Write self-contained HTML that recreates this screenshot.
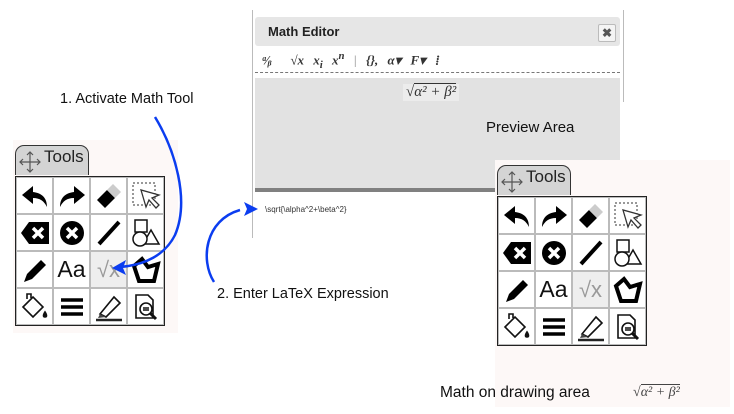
<!DOCTYPE html>
<html><head><meta charset="utf-8"><style>
body{margin:0;width:734px;height:414px;background:#fff;position:relative;overflow:hidden;font-family:"Liberation Sans",sans-serif}
.a{position:absolute}
.panel{position:absolute}
.tab{position:absolute;left:2px;top:5px;width:74px;height:30px;background:#d4d4d4;border:1.5px solid #333;border-bottom:none;border-radius:9px 9px 0 0;box-sizing:border-box}
.tab span{position:absolute;left:28px;top:1px;font-size:17px;color:#222}
.grid{position:absolute;left:2px;top:36px;width:150px;height:150px;border:1.5px solid #222;background:#bbb;display:grid;grid-template-columns:repeat(4,1fr);grid-template-rows:repeat(4,1fr);gap:2px;padding:1px;box-sizing:border-box}
.grid div{background:#fff;display:flex;align-items:center;justify-content:center;font-size:22px;color:#111}
svg{display:block}
.m{font-family:"Liberation Serif",serif;font-style:italic}
</style></head><body>

<!-- Math editor -->
<div class="a" style="left:252px;top:10px;width:1px;height:228px;background:#bbb"></div>
<div class="a" style="left:623px;top:10px;width:1px;height:92px;background:#bbb"></div>
<div class="a" style="left:255px;top:17px;width:365px;height:29px;background:#e6e6e6;border-radius:3px"></div>
<div class="a" style="left:268px;top:24px;font-size:13px;font-weight:bold;color:#222">Math Editor</div>
<div class="a" style="left:598px;top:24px;width:16px;height:16px;background:#f4f4f4;border:1px solid #bbb;border-radius:2px;font-size:12px;font-weight:bold;color:#555;text-align:center;line-height:16px">✖</div>
<div class="a m" style="left:262px;top:50px;font-size:13px;font-weight:bold;color:#333;white-space:nowrap;word-spacing:6px">ᵃ⁄ᵦ &nbsp;√x x<sub>i</sub> x<sup>n</sup> <span style="font-style:normal;color:#aaa">|</span> {}, α▾ F▾ ⁞</div>
<div class="a" style="left:255px;top:72px;width:365px;border-top:1px dashed #777"></div>
<div class="a" style="left:255px;top:78px;width:365px;height:110px;background:#e2e2e2"></div>
<div class="a m" style="left:403px;top:84px;padding:0 3px;background:#ececec;font-size:15px;color:#333">√<span style="border-top:1px solid #333">α² + β²</span></div>
<div class="a" style="left:486px;top:119px;font-size:15px;color:#111">Preview Area</div>
<div class="a" style="left:255px;top:188px;width:365px;height:4px;background:#808080"></div>
<div class="a" style="left:265px;top:205px;font-size:8px;color:#333">\sqrt{\alpha^2+\beta^2}</div>

<!-- Left panel -->
<div class="a" style="left:13px;top:140px;width:165px;height:193px;background:#fdf8f7"></div>
<div class="panel" style="left:13px;top:140px">
<div class="tab"><svg class="a" style="left:3px;top:5px" width="22" height="22" viewBox="0 0 22 22" fill="none" stroke="#555" stroke-width="1.2"><path d="M11 1v20M1 11h20M8 4l3-3 3 3M8 18l3 3 3-3M4 8l-3 3 3 3M18 8l3 3-3 3"/></svg><span>Tools</span></div>
<div class="grid">
<div><svg width="28" height="24" viewBox="0 0 28 24"><path d="M12 2L1 11l11 9v-6c7 0 11 3 14 9 0-9-5-14-14-15z" fill="#000"/></svg></div>
<div><svg width="28" height="24" viewBox="0 0 28 24"><path d="M16 2l11 9-11 9v-6c-7 0-11 3-14 9 0-9 5-14 14-15z" fill="#000"/></svg></div>
<div><svg width="28" height="28" viewBox="0 0 28 28"><path d="M2 18l10-10 8 8-10 10z" fill="#000"/><path d="M12 8l6-6 8 8-6 6z" fill="#ccc"/></svg></div>
<div><svg width="30" height="30" viewBox="0 0 30 30"><rect x="2" y="2" width="22" height="22" fill="none" stroke="#333" stroke-dasharray="2 2"/><path d="M10 9l5 17 3-7 7 8 3-3-7-7 7-3z" fill="#fff" stroke="#333" stroke-width="1.3"/></svg></div>
<div><svg width="30" height="26" viewBox="0 0 30 26"><path d="M9 2h20v22H9L1 13z" fill="#000"/><path d="M13 8l10 10M23 8L13 18" stroke="#fff" stroke-width="3.5"/></svg></div>
<div><svg width="28" height="28" viewBox="0 0 28 28"><circle cx="14" cy="14" r="12" fill="#000"/><path d="M9 9l10 10M19 9L9 19" stroke="#fff" stroke-width="3.5"/></svg></div>
<div><svg width="28" height="28" viewBox="0 0 28 28"><path d="M4 25L24 3" stroke="#000" stroke-width="4"/></svg></div>
<div><svg width="30" height="30" viewBox="0 0 30 30" fill="none" stroke="#111" stroke-width="1.5"><rect x="4" y="2" width="12" height="12"/><path d="M20 12l8 14H12z" fill="#fff"/><circle cx="9" cy="21" r="7" fill="#fff"/></svg></div>
<div><svg width="28" height="28" viewBox="0 0 28 28"><path d="M3 26l3-8L20 4l5 5L11 23z" fill="#000"/></svg></div>
<div style="font-size:23px">Aa</div>
<div style="background:#eee;color:#999;font-size:22px">√<span>x</span></div>
<div><svg width="30" height="28" viewBox="0 0 30 28"><path d="M3 10l8-7 6 8 10-3-4 17H8z" fill="none" stroke="#000" stroke-width="4"/></svg></div>
<div><svg width="30" height="30" viewBox="0 0 30 30" fill="none" stroke="#111" stroke-width="1.6"><path d="M3 15l10-10 10 10-10 10z"/><path d="M7 7V2h4v4"/><path d="M25 20c-2 3-2 5 0 5s2-2 0-5z" fill="#111"/></svg></div>
<div><svg width="28" height="24" viewBox="0 0 28 24"><path d="M3 5h22M3 12h22M3 19h22" stroke="#000" stroke-width="3.5"/></svg></div>
<div><svg width="30" height="30" viewBox="0 0 30 30"><path d="M6 22L20 5l6 6-14 14z" fill="#fff" stroke="#111" stroke-width="1.6"/><path d="M6 22l6 3-8 1z" fill="#444"/><path d="M2 28h26" stroke="#222" stroke-width="2.5"/></svg></div>
<div><svg width="30" height="30" viewBox="0 0 30 30" fill="none" stroke="#111" stroke-width="1.6"><path d="M5 3h12l5 5v18H5z"/><circle cx="15" cy="17" r="6" fill="#fff"/><path d="M19 21l6 6" stroke-width="3"/><path d="M12 16h6M12 18h6"/></svg></div>
</div></div>

<!-- Right panel -->
<div class="a" style="left:495px;top:160px;width:235px;height:247px;background:#fdf8f7"></div>
<div class="panel" style="left:495px;top:160px">
<div class="tab"><svg class="a" style="left:3px;top:5px" width="22" height="22" viewBox="0 0 22 22" fill="none" stroke="#555" stroke-width="1.2"><path d="M11 1v20M1 11h20M8 4l3-3 3 3M8 18l3 3 3-3M4 8l-3 3 3 3M18 8l3 3-3 3"/></svg><span>Tools</span></div>
<div class="grid">
<div><svg width="28" height="24" viewBox="0 0 28 24"><path d="M12 2L1 11l11 9v-6c7 0 11 3 14 9 0-9-5-14-14-15z" fill="#000"/></svg></div>
<div><svg width="28" height="24" viewBox="0 0 28 24"><path d="M16 2l11 9-11 9v-6c-7 0-11 3-14 9 0-9 5-14 14-15z" fill="#000"/></svg></div>
<div><svg width="28" height="28" viewBox="0 0 28 28"><path d="M2 18l10-10 8 8-10 10z" fill="#000"/><path d="M12 8l6-6 8 8-6 6z" fill="#ccc"/></svg></div>
<div><svg width="30" height="30" viewBox="0 0 30 30"><rect x="2" y="2" width="22" height="22" fill="none" stroke="#333" stroke-dasharray="2 2"/><path d="M10 9l5 17 3-7 7 8 3-3-7-7 7-3z" fill="#fff" stroke="#333" stroke-width="1.3"/></svg></div>
<div><svg width="30" height="26" viewBox="0 0 30 26"><path d="M9 2h20v22H9L1 13z" fill="#000"/><path d="M13 8l10 10M23 8L13 18" stroke="#fff" stroke-width="3.5"/></svg></div>
<div><svg width="28" height="28" viewBox="0 0 28 28"><circle cx="14" cy="14" r="12" fill="#000"/><path d="M9 9l10 10M19 9L9 19" stroke="#fff" stroke-width="3.5"/></svg></div>
<div><svg width="28" height="28" viewBox="0 0 28 28"><path d="M4 25L24 3" stroke="#000" stroke-width="4"/></svg></div>
<div><svg width="30" height="30" viewBox="0 0 30 30" fill="none" stroke="#111" stroke-width="1.5"><rect x="4" y="2" width="12" height="12"/><path d="M20 12l8 14H12z" fill="#fff"/><circle cx="9" cy="21" r="7" fill="#fff"/></svg></div>
<div><svg width="28" height="28" viewBox="0 0 28 28"><path d="M3 26l3-8L20 4l5 5L11 23z" fill="#000"/></svg></div>
<div style="font-size:23px">Aa</div>
<div style="background:#eee;color:#999;font-size:22px">√<span>x</span></div>
<div><svg width="30" height="28" viewBox="0 0 30 28"><path d="M3 10l8-7 6 8 10-3-4 17H8z" fill="none" stroke="#000" stroke-width="4"/></svg></div>
<div><svg width="30" height="30" viewBox="0 0 30 30" fill="none" stroke="#111" stroke-width="1.6"><path d="M3 15l10-10 10 10-10 10z"/><path d="M7 7V2h4v4"/><path d="M25 20c-2 3-2 5 0 5s2-2 0-5z" fill="#111"/></svg></div>
<div><svg width="28" height="24" viewBox="0 0 28 24"><path d="M3 5h22M3 12h22M3 19h22" stroke="#000" stroke-width="3.5"/></svg></div>
<div><svg width="30" height="30" viewBox="0 0 30 30"><path d="M6 22L20 5l6 6-14 14z" fill="#fff" stroke="#111" stroke-width="1.6"/><path d="M6 22l6 3-8 1z" fill="#444"/><path d="M2 28h26" stroke="#222" stroke-width="2.5"/></svg></div>
<div><svg width="30" height="30" viewBox="0 0 30 30" fill="none" stroke="#111" stroke-width="1.6"><path d="M5 3h12l5 5v18H5z"/><circle cx="15" cy="17" r="6" fill="#fff"/><path d="M19 21l6 6" stroke-width="3"/><path d="M12 16h6M12 18h6"/></svg></div>
</div></div>

<!-- labels -->
<div class="a" style="left:60px;top:91px;font-size:14.5px;color:#111">1. Activate Math Tool</div>
<div class="a" style="left:217px;top:286px;font-size:14.5px;color:#111">2. Enter LaTeX Expression</div>
<div class="a" style="left:440px;top:384px;font-size:15.5px;color:#111">Math on drawing area</div>
<div class="a m" style="left:633px;top:385px;font-size:14px;color:#444">√<span style="border-top:1px solid #444">α² + β²</span></div>

<!-- arrows -->
<svg class="a" style="left:0;top:0" width="734" height="414">
<path d="M155 117C175 150 190 200 175 235C165 255 145 265 120 267" fill="none" stroke="#0b3df0" stroke-width="2.5"/>
<path d="M112 268l14-8-3 8 3 7z" fill="#0b3df0"/>
<path d="M214 282C200 260 205 220 240 210" fill="none" stroke="#0b3df0" stroke-width="2.5"/>
<path d="M258 209l-14 -7 3 7-3 7z" fill="#0b3df0"/>
</svg>
</body></html>
